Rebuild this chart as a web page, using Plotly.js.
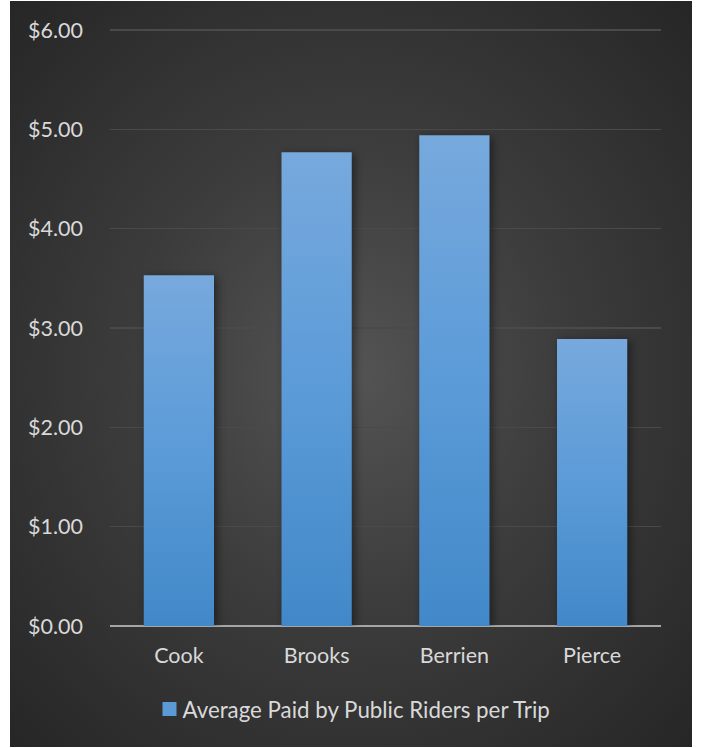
<!DOCTYPE html>
<html>
<head>
<meta charset="utf-8">
<script src="https://cdn.plot.ly/plotly-3.0.1.min.js"></script>
<style>
  html, body { margin: 0; padding: 0; background: #ffffff; }
  #chart {
    position: absolute; left: 10px; top: 1px; width: 682px; height: 746px;
    background: radial-gradient(ellipse at 50% 50%, #545454 0%, #3c3c3c 45%, #262626 100%);
  }
</style>
</head>
<body>
<div id="chart"></div>
<script>
const categories = ["Cook", "Brooks", "Berrien", "Pierce"];
const avgPaid = [3.53, 4.77, 4.94, 2.89];
const seriesName = "Average Paid by Public Riders per Trip";
const yTickVals = [0, 1, 2, 3, 4, 5, 6];
const yTickText = ["$0.00", "$1.00", "$2.00", "$3.00", "$4.00", "$5.00", "$6.00"];

const font = "Lato, 'Open Sans', sans-serif";
const textColor = "#d9d9d9";
const fs = 21.5;
const legendFs = 22.3;

const data = [{
  type: "bar",
  x: categories,
  y: avgPaid,
  name: seriesName,
  marker: { color: "#5b9bd5", line: { width: 0 } },
  hoverinfo: "none"
}];

const layout = {
  width: 682, height: 746,
  margin: { l: 100, r: 31, t: 27, b: 121 },
  paper_bgcolor: "rgba(0,0,0,0)",
  plot_bgcolor: "rgba(0,0,0,0)",
  bargap: 0.49,
  font: { family: font, color: textColor, size: fs },
  showlegend: true,
  legend: {
    orientation: "h", xref: "container", yref: "container",
    x: 0.5, xanchor: "center", y: 0.051, yanchor: "middle",
    font: { family: font, color: textColor, size: legendFs }
  },
  xaxis: {
    showgrid: false, zeroline: false, showline: false, ticks: "",
    ticklabelstandoff: 14,
    tickfont: { family: font, color: textColor, size: fs }
  },
  yaxis: {
    range: [0, 6.02], tickvals: yTickVals, ticktext: yTickText,
    showgrid: true, gridcolor: "#4a4a4a", gridwidth: 1.5,
    zeroline: true, zerolinecolor: "#a6a6a6", zerolinewidth: 2,
    showline: false, ticks: "",
    ticklabelstandoff: 26,
    tickfont: { family: font, color: textColor, size: fs }
  }
};

Plotly.newPlot("chart", data, layout, { displayModeBar: false, staticPlot: true }).then(function (gd) {
  const svg = gd.querySelector("svg.main-svg");
  let defs = svg.querySelector("defs");
  const ns = "http://www.w3.org/2000/svg";
  const grad = document.createElementNS(ns, "linearGradient");
  grad.setAttribute("id", "barGrad");
  grad.setAttribute("x1", "0"); grad.setAttribute("y1", "0");
  grad.setAttribute("x2", "0"); grad.setAttribute("y2", "1");
  [["0%", "#77a9dd"], ["50%", "#5b9bd8"], ["100%", "#4288c8"]].forEach(function (s) {
    const st = document.createElementNS(ns, "stop");
    st.setAttribute("offset", s[0]); st.setAttribute("stop-color", s[1]);
    grad.appendChild(st);
  });
  defs.appendChild(grad);
  gd.querySelectorAll(".barlayer .point path").forEach(function (p) {
    p.style.fill = "url(#barGrad)";
    p.style.filter = "drop-shadow(3px 2px 4px rgba(0,0,0,0.45))";
  });
  // tighten legend: larger swatch, smaller gap to text, keep centred
  gd.querySelectorAll(".legend .legendpoints path").forEach(function (p) {
    p.setAttribute("d", "M7,7H-7V-7H7Z");
  });
  gd.querySelectorAll(".legend .legendtext").forEach(function (t) {
    t.setAttribute("x", "33");
  });
  const lg = gd.querySelector("g.legend");
  if (lg) {
    const m = /translate\(([-\d.]+)[ ,]+([-\d.]+)\)/.exec(lg.getAttribute("transform"));
    if (m) lg.setAttribute("transform", "translate(" + (parseFloat(m[1]) + 5) + "," + m[2] + ")");
  }
});
</script>
</body>
</html>
